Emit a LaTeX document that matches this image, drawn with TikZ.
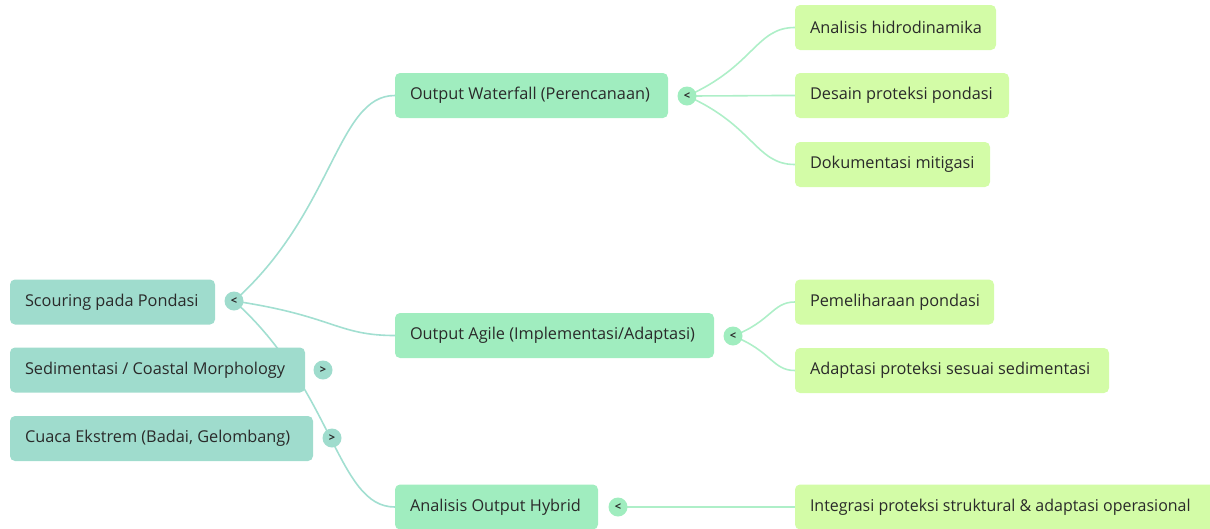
\documentclass[tikz,border=0pt]{standalone}
\usepackage{fontspec}
\setmainfont{Open Sans}
\usetikzlibrary{calc,backgrounds}

\definecolor{rootfill}{HTML}{9FDCCD}
\definecolor{midfill}{HTML}{A0EDBF}
\definecolor{leaffill}{HTML}{D3FCA7}
\definecolor{rootline}{HTML}{A2DFD1}
\definecolor{midline}{HTML}{AEEFC8}
\definecolor{inktext}{HTML}{2A2A2A}

\tikzset{
  box/.style={rectangle, rounded corners=5pt, minimum height=45pt,
    inner xsep=0pt, inner ysep=0pt, text=inktext,
    font=\fontsize{16.3}{18}\selectfont},
  rootbox/.style={box, fill=rootfill},
  midbox/.style={box, fill=midfill},
  leafbox/.style={box, fill=leaffill},
  toggle/.style={circle, minimum size=19pt, inner sep=0pt, text=inktext,
    font=\fontsize{11}{11}\bfseries\selectfont},
  link/.style={line width=1.6pt, line cap=round},
  mm/.style={to path={let \p1=(\tikztostart), \p2=(\tikztotarget) in
    .. controls ({\x1+0.62*(\x2-\x1)},{\y1+0.43*(\y2-\y1)})
    and ({\x1+0.64*(\x2-\x1)},\y2) .. (\tikztotarget)}},
}

\newcommand{\boxtext}[2]{\parbox{#1}{\hspace*{15pt}#2}}

\begin{document}
\begin{tikzpicture}[x=1pt,y=-1pt]
\clip (0,0) rectangle (1210,528);
\useasboundingbox (0,0) rectangle (1210,528);

% root topics
\node[rootbox, minimum width=205pt] (r1) at (112.5,302) {\boxtext{205pt}{Scouring pada Pondasi}};
\node[rootbox, minimum width=295pt] (r2) at (157.5,370) {\boxtext{295pt}{Sedimentasi / Coastal Morphology}};
\node[rootbox, minimum width=303pt] (r3) at (161.5,438.5) {\boxtext{303pt}{Cuaca Ekstrem (Badai, Gelombang)}};

% second level
\node[midbox, minimum width=273pt] (wf) at (531.5,95.5) {\boxtext{273pt}{Output Waterfall (Perencanaan)}};
\node[midbox, minimum width=319pt] (ag) at (554.5,335.5) {\boxtext{319pt}{Output Agile (Implementasi/Adaptasi)}};
\node[midbox, minimum width=203pt] (hy) at (496.5,507) {\boxtext{203pt}{Analisis Output Hybrid}};

% leaves
\node[leafbox, minimum width=201pt] (a1) at (895.5,27.5) {\boxtext{201pt}{Analisis hidrodinamika}};
\node[leafbox, minimum width=214pt] (a2) at (902,95.5) {\boxtext{214pt}{Desain proteksi pondasi}};
\node[leafbox, minimum width=195pt] (a3) at (892.5,164.5) {\boxtext{195pt}{Dokumentasi mitigasi}};
\node[leafbox, minimum width=199pt] (b1) at (894.5,302) {\boxtext{199pt}{Pemeliharaan pondasi}};
\node[leafbox, minimum width=314pt] (b2) at (952,370.5) {\boxtext{314pt}{Adaptasi proteksi sesuai sedimentasi}};
\node[leafbox, minimum width=430pt] (c1) at (1010,507) {\boxtext{430pt}{\scalebox{0.98}[1]{Integrasi proteksi struktural \& adaptasi operasional}}};

% collapse / expand toggles
\node[toggle, fill=rootfill] (t1) at (234,301) {<};
\node[toggle, fill=rootfill] (t2) at (323,370) {>};
\node[toggle, fill=rootfill] (t3) at (332,438) {>};
\node[toggle, fill=midfill] (twf) at (687,96) {<};
\node[toggle, fill=midfill] (tag) at (733,336) {<};
\node[toggle, fill=midfill] (thy) at (618,507) {<};

% connectors behind the boxes
\begin{pgfonlayer}{background}
  \draw[link, rootline] (t1.center) to[mm] (wf.west);
  \draw[link, rootline] (t1.center) to[mm] (ag.west);
  \draw[link, rootline] (t1.center) to[mm] (hy.west);
  \draw[link, midline] (twf.center) to[mm] (a1.west);
  \draw[link, midline] (twf.center) to[mm] (a2.west);
  \draw[link, midline] (twf.center) to[mm] (a3.west);
  \draw[link, midline] (tag.center) to[mm] (b1.west);
  \draw[link, midline] (tag.center) to[mm] (b2.west);
  \draw[link, midline] (thy.center) -- (c1.west);
\end{pgfonlayer}
\end{tikzpicture}
\end{document}
